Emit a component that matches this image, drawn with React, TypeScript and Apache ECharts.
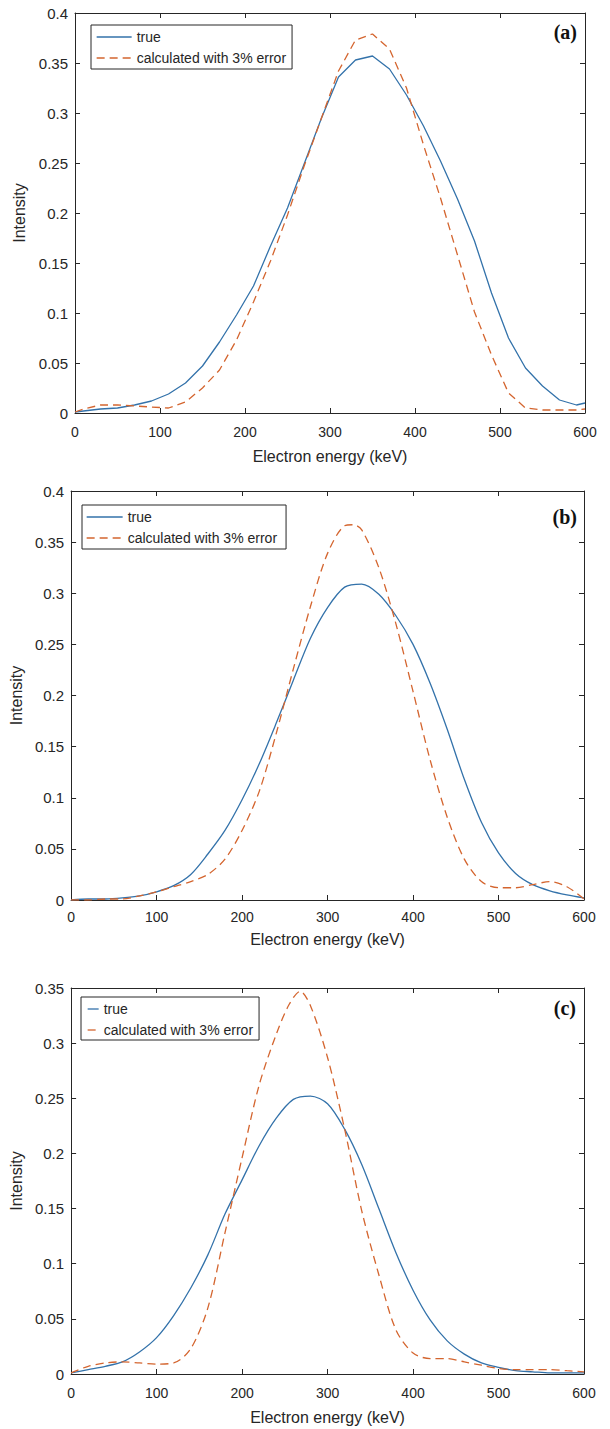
import React, { useEffect, useRef } from "react";
import * as echarts from "echarts";

// ---------- data ----------
const panelLabels = ["(a)", "(b)", "(c)"];
const seriesNames = ["true", "calculated with 3% error"];
const xTicks = [0, 100, 200, 300, 400, 500, 600];
const yMaxes = [0.4, 0.4, 0.35];

// panel (a)
const aEnergy = [0, 10, 30, 50, 70, 90, 110, 130, 150, 170, 190, 210, 230, 250, 270, 290, 310, 330, 350, 370, 390, 410, 430, 450, 470, 490, 510, 530, 550, 570, 590, 600];
const aTrue = [0.001, 0.002, 0.004, 0.005, 0.008, 0.012, 0.019, 0.030, 0.047, 0.071, 0.098, 0.127, 0.167, 0.205, 0.250, 0.295, 0.336, 0.353, 0.357, 0.344, 0.318, 0.287, 0.252, 0.214, 0.172, 0.120, 0.075, 0.045, 0.027, 0.013, 0.008, 0.010];
const aCalc = [0.001, 0.004, 0.008, 0.008, 0.007, 0.006, 0.005, 0.011, 0.025, 0.043, 0.073, 0.111, 0.152, 0.198, 0.248, 0.295, 0.342, 0.373, 0.379, 0.364, 0.325, 0.268, 0.215, 0.158, 0.101, 0.058, 0.020, 0.005, 0.003, 0.003, 0.003, 0.004];

// panel (b)
const bTrueEnergy = [0, 20, 40, 60, 80, 100, 120, 140, 160, 180, 200, 220, 240, 260, 280, 300, 320, 340, 360, 380, 400, 420, 440, 460, 480, 500, 520, 540, 560, 580, 600];
const bTrue = [0.000, 0.001, 0.001, 0.002, 0.004, 0.008, 0.014, 0.025, 0.045, 0.068, 0.098, 0.133, 0.173, 0.215, 0.256, 0.286, 0.306, 0.309, 0.299, 0.278, 0.250, 0.212, 0.167, 0.118, 0.076, 0.046, 0.026, 0.015, 0.009, 0.005, 0.002];
const bCalcEnergy = [0, 20, 40, 60, 80, 100, 120, 140, 160, 180, 200, 220, 240, 260, 280, 300, 320, 330, 340, 360, 380, 400, 420, 440, 460, 480, 500, 520, 540, 560, 580, 600];
const bCalc = [0.000, 0.000, 0.001, 0.001, 0.004, 0.008, 0.013, 0.018, 0.025, 0.040, 0.068, 0.106, 0.163, 0.226, 0.287, 0.339, 0.366, 0.367, 0.362, 0.325, 0.270, 0.204, 0.137, 0.081, 0.040, 0.018, 0.012, 0.012, 0.015, 0.018, 0.013, 0.001];

// panel (c)
const cTrueEnergy = [0, 20, 40, 60, 80, 100, 120, 140, 160, 180, 200, 220, 240, 260, 280, 300, 320, 340, 360, 380, 400, 420, 440, 460, 480, 500, 520, 540, 560, 580, 600];
const cTrue = [0.001, 0.004, 0.007, 0.011, 0.020, 0.033, 0.053, 0.078, 0.108, 0.145, 0.176, 0.207, 0.232, 0.249, 0.252, 0.245, 0.222, 0.190, 0.150, 0.110, 0.076, 0.049, 0.030, 0.018, 0.010, 0.006, 0.003, 0.002, 0.001, 0.001, 0.001];
const cCalcEnergy = [0, 20, 40, 60, 80, 100, 120, 140, 160, 180, 200, 220, 240, 255, 268, 280, 300, 320, 340, 360, 380, 400, 420, 440, 460, 480, 500, 520, 540, 560, 580, 600];
const cCalc = [0.001, 0.007, 0.010, 0.011, 0.010, 0.009, 0.010, 0.023, 0.060, 0.128, 0.196, 0.262, 0.308, 0.335, 0.347, 0.334, 0.287, 0.222, 0.148, 0.090, 0.040, 0.019, 0.014, 0.014, 0.011, 0.008, 0.005, 0.004, 0.004, 0.004, 0.003, 0.002];

const panels = [
  { trueX: aEnergy, trueY: aTrue, calcX: aEnergy, calcY: aCalc, smooth: false },
  { trueX: bTrueEnergy, trueY: bTrue, calcX: bCalcEnergy, calcY: bCalc, smooth: 0.3 },
  { trueX: cTrueEnergy, trueY: cTrue, calcX: cCalcEnergy, calcY: cCalc, smooth: 0.3 },
];

// ---------- layout / style ----------
const FONT = '"Liberation Sans", Arial, Helvetica, sans-serif';
const AXIS = "#262626";
const BLUE = "#3372aa";
const ORANGE = "#d4652f";

const grids = [
  { left: 75, top: 13, width: 510, height: 400 },
  { left: 65, top: 491, width: 519, height: 409 },
  { left: 71, top: 988, width: 513, height: 386 },
];
const xLabelMargin = [12, 10, 12];
const xNameGap = [35, 31, 35];
const yNameGap = [42, 45, 43];
const legendLayout = [
  { left: 91, top: 25, itemWidth: 35, padding: [5, 6, 4, 5] },
  { left: 82, top: 505, itemWidth: 36, padding: [5, 9, 4, 4] },
  { left: 81, top: 997, itemWidth: 11, padding: [5, 6, 3, 6] },
];
const labelPos = [
  { x: 577, y: 32 },
  { x: 577, y: 517 },
  { x: 576, y: 1008 },
];

function fmt(v: number) {
  return String(parseFloat(v.toFixed(2)));
}

function buildOption() {
  const xAxis: any[] = [];
  const yAxis: any[] = [];
  const series: any[] = [];
  const legend: any[] = [];
  const graphic: any[] = [];

  panels.forEach((p, i) => {
    const common = {
      gridIndex: i,
      type: "value",
      min: xTicks[0],
      max: xTicks[xTicks.length - 1],
      interval: xTicks[1] - xTicks[0],
      splitLine: { show: false },
      axisLine: { show: true, onZero: false, lineStyle: { color: AXIS, width: 1 } },
      axisTick: { show: true, inside: true, length: 5, lineStyle: { color: AXIS } },
    };
    xAxis.push({
      ...common,
      position: "bottom",
      axisLabel: { margin: xLabelMargin[i], fontSize: 14, color: AXIS, fontFamily: FONT },
      name: "Electron energy (keV)",
      nameLocation: "middle",
      nameGap: xNameGap[i],
      nameTextStyle: { fontSize: 16, color: AXIS, fontFamily: FONT },
    });
    xAxis.push({ ...common, position: "top", axisLabel: { show: false } });

    const yCommon = {
      gridIndex: i,
      type: "value",
      min: 0,
      max: yMaxes[i],
      interval: 0.05,
      splitLine: { show: false },
      axisLine: { show: true, onZero: false, lineStyle: { color: AXIS, width: 1 } },
      axisTick: { show: true, inside: true, length: 5, lineStyle: { color: AXIS } },
    };
    yAxis.push({
      ...yCommon,
      position: "left",
      axisLabel: { margin: 7, fontSize: 15, color: AXIS, fontFamily: FONT, formatter: fmt },
      name: "Intensity",
      nameLocation: "middle",
      nameRotate: 90,
      nameGap: yNameGap[i],
      nameTextStyle: { fontSize: 16, color: AXIS, fontFamily: FONT },
    });
    yAxis.push({ ...yCommon, position: "right", axisLabel: { show: false } });

    series.push({
      name: seriesNames[0],
      type: "line",
      xAxisIndex: i * 2,
      yAxisIndex: i * 2,
      data: p.trueX.map((x, k) => [x, p.trueY[k]]),
      showSymbol: false,
      symbol: "none",
      smooth: p.smooth,
      lineStyle: { color: BLUE, width: 1.3, type: "solid" },
      itemStyle: { color: BLUE },
      z: 2,
    });
    series.push({
      name: seriesNames[1],
      type: "line",
      xAxisIndex: i * 2,
      yAxisIndex: i * 2,
      data: p.calcX.map((x, k) => [x, p.calcY[k]]),
      showSymbol: false,
      symbol: "none",
      smooth: p.smooth,
      lineStyle: { color: ORANGE, width: 1.3, type: [8, 5] },
      itemStyle: { color: ORANGE },
      z: 3,
    });

    const L = legendLayout[i];
    legend.push({
      left: L.left,
      top: L.top,
      orient: "vertical",
      data: seriesNames,
      itemWidth: L.itemWidth,
      itemHeight: 14,
      itemGap: 7,
      padding: L.padding,
      borderColor: AXIS,
      borderWidth: 1,
      borderRadius: 0,
      backgroundColor: "#ffffff",
      selectedMode: false,
      itemStyle: { opacity: 0 },
      lineStyle: { width: 1.3 },
      textStyle: { fontSize: 14, color: AXIS, fontFamily: FONT },
    });

    graphic.push({
      type: "text",
      x: labelPos[i].x,
      y: labelPos[i].y,
      z: 10,
      style: {
        text: panelLabels[i],
        fontSize: 20,
        fontWeight: "bold",
        fontFamily: '"Liberation Serif", "Times New Roman", serif',
        fill: "#111111",
        align: "right",
        verticalAlign: "middle",
      },
    });
  });

  return {
    animation: false,
    backgroundColor: "#ffffff",
    grid: grids,
    xAxis,
    yAxis,
    series,
    legend,
    graphic,
  };
}

export default function App() {
  const ref = useRef<HTMLDivElement>(null);
  useEffect(() => {
    if (!ref.current) return;
    const chart = echarts.init(ref.current, undefined, { renderer: "svg" });
    chart.setOption(buildOption() as any);
    return () => chart.dispose();
  }, []);
  return (
    <div
      ref={ref}
      style={{ position: "absolute", left: 0, top: 0, width: 610, height: 1429, background: "#fff" }}
    />
  );
}
